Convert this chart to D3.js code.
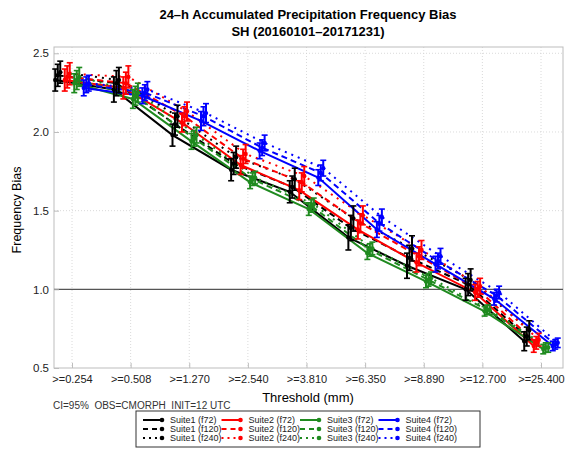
<!DOCTYPE html>
<html>
<head>
<meta charset="utf-8">
<script src="https://cdn.jsdelivr.net/npm/d3@7"></script>
<style>
  body { margin: 0; background: #fff; }
  text { font-family: "Liberation Sans", Arial, sans-serif; }
</style>
</head>
<body>
<div id="bias-chart"></div>
<script>
// categories and tick labels
var thresholds = [">=0.254", ">=0.508", ">=1.270", ">=2.540", ">=3.810", ">=6.350", ">=8.890", ">=12.700", ">=25.400"];
var yTicks = [0.5, 1.0, 1.5, 2.0, 2.5];
var suiteNames = ["Suite1", "Suite2", "Suite3", "Suite4"];
var leadNames = ["f72", "f120", "f240"];

// frequency bias values
var suite1_f72  = [2.33, 2.27, 1.98, 1.76, 1.62, 1.33, 1.15, 1.00, 0.67];
var suite1_f120 = [2.36, 2.31, 2.05, 1.80, 1.65, 1.39, 1.20, 1.03, 0.70];
var suite1_f240 = [2.38, 2.33, 2.10, 1.84, 1.70, 1.45, 1.26, 1.06, 0.74];
var suite2_f72  = [2.33, 2.28, 2.06, 1.79, 1.63, 1.38, 1.17, 0.98, 0.64];
var suite2_f120 = [2.35, 2.31, 2.10, 1.83, 1.68, 1.42, 1.21, 1.00, 0.66];
var suite2_f240 = [2.37, 2.35, 2.13, 1.86, 1.72, 1.47, 1.25, 1.02, 0.68];
var suite3_f72  = [2.31, 2.21, 1.94, 1.68, 1.51, 1.23, 1.05, 0.86, 0.62];
var suite3_f120 = [2.33, 2.23, 1.96, 1.70, 1.53, 1.25, 1.06, 0.87, 0.63];
var suite3_f240 = [2.35, 2.25, 1.98, 1.71, 1.54, 1.26, 1.07, 0.87, 0.63];
var suite4_f72  = [2.28, 2.23, 2.07, 1.88, 1.71, 1.38, 1.16, 0.94, 0.64];
var suite4_f120 = [2.30, 2.25, 2.10, 1.90, 1.74, 1.42, 1.18, 0.96, 0.65];
var suite4_f240 = [2.31, 2.27, 2.12, 1.93, 1.77, 1.46, 1.21, 0.98, 0.66];

// 95% CI half widths per suite
var suite1_ci = [0.07, 0.08, 0.07, 0.07, 0.07, 0.08, 0.08, 0.07, 0.06];
var suite2_ci = [0.07, 0.07, 0.06, 0.06, 0.06, 0.06, 0.06, 0.05, 0.04];
var suite3_ci = [0.06, 0.06, 0.05, 0.04, 0.04, 0.04, 0.04, 0.03, 0.03];
var suite4_ci = [0.05, 0.05, 0.06, 0.05, 0.05, 0.05, 0.05, 0.04, 0.03];

var suiteColors = ["#000000", "#ff0000", "#1f8a1f", "#0000ff"];
var leadDash = [null, "6,4", "2,5"];

var seriesValues = [
  [suite1_f72, suite1_f120, suite1_f240],
  [suite2_f72, suite2_f120, suite2_f240],
  [suite3_f72, suite3_f120, suite3_f240],
  [suite4_f72, suite4_f120, suite4_f240]
];
var seriesCi = [suite1_ci, suite2_ci, suite3_ci, suite4_ci];

var series = [];
suiteNames.forEach(function(s, si) {
  leadNames.forEach(function(l, li) {
    series.push({
      suite: si, lead: li, label: s + " (" + l + ")",
      values: seriesValues[si][li].map(function(v, i) {
        return { cat: thresholds[i], v: v, ci: seriesCi[si][i] };
      })
    });
  });
});

var W = 569, H = 450;
var frame = { left: 54, right: 563, top: 47, bottom: 368 };

var svg = d3.select("#bias-chart").append("svg")
  .attr("width", W).attr("height", H);

var x = d3.scalePoint().domain(thresholds).range([72, 541]);
var y = d3.scaleLinear().domain([0.5, 2.54]).range([frame.bottom, frame.top]);

function xPos(d, s) {
  return x(d.cat) + (s.suite - 1.5) * 9.5 + (s.lead - 1) * 2.5;
}

// titles
svg.append("text").attr("x", 308).attr("y", 19).attr("text-anchor", "middle")
  .style("font-size", "13px").style("font-weight", "bold")
  .text("24\u2013h Accumulated Precipitation Frequency Bias");
svg.append("text").attr("x", 308).attr("y", 36).attr("text-anchor", "middle")
  .style("font-size", "13px").style("font-weight", "bold")
  .text("SH (20160101\u201320171231)");

// grid
var grid = svg.append("g");
grid.selectAll("line.vg").data(thresholds).enter().append("line")
  .attr("x1", function(d) { return x(d); }).attr("x2", function(d) { return x(d); })
  .attr("y1", frame.top).attr("y2", frame.bottom)
  .attr("stroke", "#d0d0d0").attr("stroke-width", 0.8).attr("stroke-dasharray", "1,2");
grid.selectAll("line.hg").data(yTicks.filter(function(t) { return t > 1.0; })).enter().append("line")
  .attr("x1", frame.left).attr("x2", frame.right)
  .attr("y1", function(d) { return y(d); }).attr("y2", function(d) { return y(d); })
  .attr("stroke", "#d0d0d0").attr("stroke-width", 0.8).attr("stroke-dasharray", "1,2");

// frame
svg.append("rect").attr("x", frame.left).attr("y", frame.top)
  .attr("width", frame.right - frame.left).attr("height", frame.bottom - frame.top)
  .attr("fill", "none").attr("stroke", "#bdbdbd").attr("stroke-width", 1);

// reference line at 1.0
svg.append("line").attr("x1", frame.left).attr("x2", frame.right)
  .attr("y1", y(1.0)).attr("y2", y(1.0))
  .attr("stroke", "#555").attr("stroke-width", 1.2);

// axes (ticks inside)
var yAxis = svg.append("g").attr("transform", "translate(" + frame.left + ",0)")
  .call(d3.axisRight(y).tickValues(yTicks).tickSize(5).tickFormat(d3.format(".1f")));
yAxis.select(".domain").remove();
yAxis.selectAll("line").attr("stroke", "#bdbdbd");
yAxis.selectAll("text").attr("x", -5).attr("text-anchor", "end")
  .style("font-size", "11.5px").attr("fill", "#222");

var xAxis = svg.append("g").attr("transform", "translate(0," + frame.bottom + ")")
  .call(d3.axisTop(x).tickSize(5));
xAxis.select(".domain").remove();
xAxis.selectAll("line").attr("stroke", "#bdbdbd");
xAxis.selectAll("text").attr("y", 15).attr("dy", 0)
  .style("font-size", "11px").attr("fill", "#222");

// axis titles
svg.append("text").attr("transform", "translate(21,210) rotate(-90)")
  .attr("text-anchor", "middle").style("font-size", "12.5px").text("Frequency Bias");
svg.append("text").attr("x", 308).attr("y", 402).attr("text-anchor", "middle")
  .style("font-size", "13px").text("Threshold (mm)");
svg.append("text").attr("x", 53).attr("y", 409)
  .style("font-size", "10px").style("white-space", "pre").attr("fill", "#333")
  .text("CI=95%  OBS=CMORPH  INIT=12 UTC");

// lines
var line = d3.line();
var plot = svg.append("g");
series.forEach(function(s) {
  plot.append("path")
    .attr("d", line(s.values.map(function(d) { return [xPos(d, s), y(d.v)]; })))
    .attr("fill", "none")
    .attr("stroke", suiteColors[s.suite])
    .attr("stroke-width", 2)
    .attr("stroke-dasharray", leadDash[s.lead]);
});

// error bars
series.forEach(function(s) {
  var g = plot.append("g").attr("stroke", suiteColors[s.suite]).attr("fill", suiteColors[s.suite]);
  var bars = g.selectAll("g").data(s.values).enter().append("g");
  bars.append("line")
    .attr("x1", function(d) { return xPos(d, s); }).attr("x2", function(d) { return xPos(d, s); })
    .attr("y1", function(d) { return y(d.v - d.ci); }).attr("y2", function(d) { return y(d.v + d.ci); })
    .attr("stroke-width", 2);
  [-1, 1].forEach(function(sign) {
    bars.append("line")
      .attr("x1", function(d) { return xPos(d, s) - 3; }).attr("x2", function(d) { return xPos(d, s) + 3; })
      .attr("y1", function(d) { return y(d.v + sign * d.ci); }).attr("y2", function(d) { return y(d.v + sign * d.ci); })
      .attr("stroke-width", 1.6);
  });
  bars.append("circle")
    .attr("cx", function(d) { return xPos(d, s); }).attr("cy", function(d) { return y(d.v); })
    .attr("r", 2.2).attr("stroke", "none");
});

// legend
var legend = svg.append("g");
legend.append("rect").attr("x", 136).attr("y", 411).attr("width", 344).attr("height", 36)
  .attr("fill", "#fff").attr("stroke", "#333").attr("stroke-width", 1);
var item = legend.selectAll("g.item").data(series).enter().append("g")
  .attr("transform", function(d) {
    return "translate(" + (143 + d.suite * 78.5) + "," + (420 + d.lead * 9) + ")";
  });
item.append("line").attr("x1", 0).attr("x2", 19).attr("y1", 0).attr("y2", 0)
  .attr("stroke", function(d) { return suiteColors[d.suite]; })
  .attr("stroke-width", 2)
  .attr("stroke-dasharray", function(d) { return d.lead === 0 ? null : (d.lead === 1 ? "5,4" : "2,4"); });
item.append("circle").attr("cx", 19).attr("cy", 0).attr("r", 2.3)
  .attr("fill", function(d) { return suiteColors[d.suite]; });
item.append("text").attr("x", 27).attr("y", 3.2)
  .style("font-size", "9px").attr("fill", "#222")
  .text(function(d) { return d.label; });
</script>
</body>
</html>
